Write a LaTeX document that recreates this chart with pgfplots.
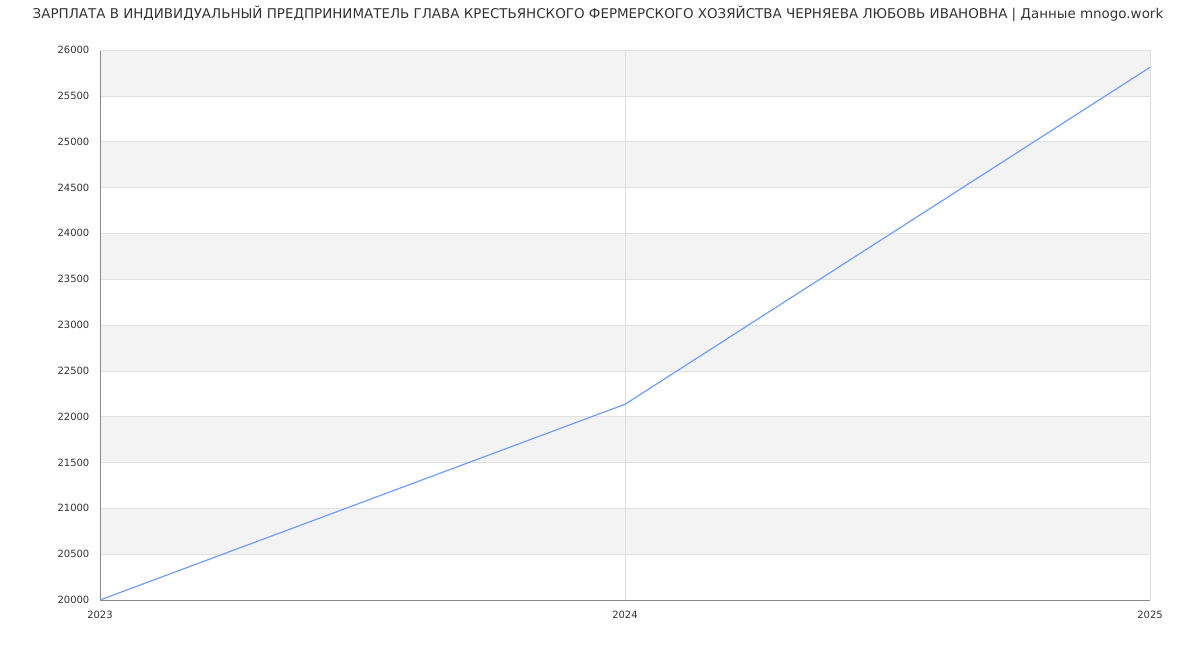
\documentclass[border=0pt]{standalone}
\usepackage{pgfplots}
\pgfplotsset{compat=1.18}
\usepackage{fontspec}
\setmainfont{DejaVu Sans}
\definecolor{band}{HTML}{F3F3F3}
\definecolor{gridc}{HTML}{E0E0E0}
\definecolor{axisc}{HTML}{888888}
\definecolor{linec}{HTML}{6F9EF8}
\definecolor{txt}{HTML}{333333}
\begin{document}
\begin{tikzpicture}[x=1pt,y=1pt]
\begin{axis}[
  set layers,
  at={(0,0)}, anchor=origin,
  scale only axis,
  width=1050pt, height=550pt,
  xmin=2023, xmax=2025,
  ymin=20000, ymax=26000,
  xtick={2023,2024,2025},
  ytick={20000,20500,...,26000},
  scaled y ticks=false,
  scaled x ticks=false,
  axis lines=left,
  axis line style={draw=axisc, line width=0.8pt, -},
  grid=major,
  major grid style={draw=gridc, line width=0.6pt},
  tick style={draw=none},
  tick label style={font=\fontsize{10}{12}\selectfont, text=txt},
  /pgf/number format/1000 sep={},
  /pgf/number format/assume math mode=true,
  xticklabel style={yshift=-5pt},
  yticklabel style={xshift=-5pt},
  clip=false,
]
\addplot[on layer=axis background, fill=band, draw=none] coordinates {(2023,20500) (2025,20500) (2025,21000) (2023,21000)} -- cycle;
\addplot[on layer=axis background, fill=band, draw=none] coordinates {(2023,21500) (2025,21500) (2025,22000) (2023,22000)} -- cycle;
\addplot[on layer=axis background, fill=band, draw=none] coordinates {(2023,22500) (2025,22500) (2025,23000) (2023,23000)} -- cycle;
\addplot[on layer=axis background, fill=band, draw=none] coordinates {(2023,23500) (2025,23500) (2025,24000) (2023,24000)} -- cycle;
\addplot[on layer=axis background, fill=band, draw=none] coordinates {(2023,24500) (2025,24500) (2025,25000) (2023,25000)} -- cycle;
\addplot[on layer=axis background, fill=band, draw=none] coordinates {(2023,25500) (2025,25500) (2025,26000) (2023,26000)} -- cycle;
\draw[gridc, line width=0.6pt] (axis cs:2025,20000) -- (axis cs:2025,26000);
\draw[gridc, line width=0.6pt] (axis cs:2023,26000) -- (axis cs:2025,26000);
\addplot[linec, line width=1.2pt, no marks] coordinates {
  (2023,20000) (2024,22135) (2025,25811)
};
\end{axis}
\node[text=txt, font=\fontsize{13.45}{15}\selectfont] at (498,586) {ЗАРПЛАТА В ИНДИВИДУАЛЬНЫЙ ПРЕДПРИНИМАТЕЛЬ ГЛАВА КРЕСТЬЯНСКОГО ФЕРМЕРСКОГО ХОЗЯЙСТВА ЧЕРНЯЕВА ЛЮБОВЬ ИВАНОВНА | Данные mnogo.work};
\path[use as bounding box] (-100,-50) rectangle (1100,600);
\end{tikzpicture}
\end{document}
